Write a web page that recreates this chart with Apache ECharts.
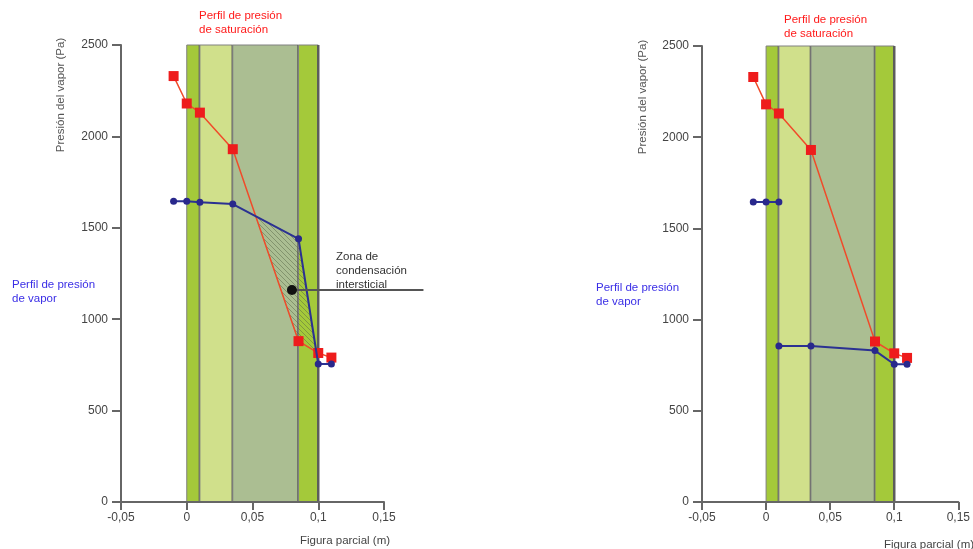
<!DOCTYPE html>
<html>
<head>
<meta charset="utf-8">
<script src="https://cdn.jsdelivr.net/npm/echarts@6/dist/echarts.min.js"></script>
<style>
  html, body { margin: 0; padding: 0; background: #fff; }
  #chart { width: 973px; height: 549px; }
</style>
</head>
<body>
<div id="chart"></div>
<script>
// Positions through the wall section (m)
const positions = [-0.01, 0, 0.01, 0.035, 0.085, 0.1, 0.11];
// Saturation vapour pressure at each position (Pa)
const saturationPa = [2330, 2180, 2130, 1930, 880, 815, 790];
// Vapour pressure, wall without vapour barrier (Pa)
const vaporPaA = [1645, 1645, 1640, 1630, 1440, 755, 755];
// Vapour pressure, wall with vapour barrier: indoor part and part past the barrier (Pa)
const vaporPaB_in = [1645, 1645, 1645];            // positions[0..2]
const vaporPaB_out = [855, 855, 830, 755, 755];    // positions[2..6]
// Layer boundaries (m) and their fills
const layerEdges = [0, 0.01, 0.035, 0.085, 0.1];
const layerColors = ['#a4c93a', '#d0e08b', '#abbe92', '#a4c93a'];
const wallTopPa = 2500;
// Interstitial condensation callout
const condensationPoint = [0.08, 1160];
const calloutEndX = 0.18;
// Axis ranges
const xRange = [-0.05, 0.15], xStep = 0.05;
const yRange = [0, 2500], yStep = 500;

const FONT = '"Liberation Sans", Arial, sans-serif';

function zip(xs, ys) { return xs.map((x, i) => [x, ys[i]]); }

// Region where vapour pressure exceeds saturation pressure
function condensationZone(xs, vap, sat) {
  const upper = [], lower = [];
  for (let i = 0; i < xs.length - 1; i++) {
    const d0 = vap[i] - sat[i], d1 = vap[i + 1] - sat[i + 1];
    if (d0 > 0) { upper.push([xs[i], vap[i]]); lower.push([xs[i], sat[i]]); }
    if ((d0 > 0) !== (d1 > 0)) {
      const t = d0 / (d0 - d1);
      const p = [xs[i] + t * (xs[i + 1] - xs[i]), vap[i] + t * (vap[i + 1] - vap[i])];
      upper.push(p); lower.push(p);
    }
  }
  return upper.concat(lower.reverse());
}
const zone = condensationZone(positions, vaporPaA, saturationPa);

// Diagonal hatch pattern
const hatch = document.createElement('canvas');
hatch.width = 5; hatch.height = 5;
(function () {
  const c = hatch.getContext('2d');
  c.strokeStyle = 'rgba(85,100,70,0.6)';
  c.lineWidth = 0.8;
  c.beginPath();
  c.moveTo(0, 0); c.lineTo(5, 5);
  c.moveTo(-1, 4); c.lineTo(1, 6);
  c.moveTo(4, -1); c.lineTo(6, 1);
  c.stroke();
})();

function bandItem(params, api) {
  const i = api.value(0);
  const tl = api.coord([layerEdges[i], wallTopPa]);
  const br = api.coord([layerEdges[i + 1], 0]);
  return {
    type: 'group',
    children: [
      { type: 'rect', shape: { x: tl[0], y: tl[1], width: br[0] - tl[0], height: br[1] - tl[1] },
        style: { fill: layerColors[i], stroke: '#808080', lineWidth: 1 } },
      { type: 'line', shape: { x1: br[0], y1: tl[1], x2: br[0], y2: br[1] },
        style: { stroke: '#5c5c5c', lineWidth: 2.5 } }
    ]
  };
}

function zoneItem(params, api) {
  const pts = zone.map(p => api.coord(p));
  return { type: 'polygon', shape: { points: pts },
           style: { fill: { image: hatch, repeat: 'repeat' }, stroke: 'rgba(90,105,75,0.5)', lineWidth: 0.5 } };
}

// Leader line from the condensation marker out past the chart edge
function calloutItem(params, api) {
  const a = api.coord(condensationPoint);
  const b = api.coord([calloutEndX, condensationPoint[1]]);
  return {
    type: 'group',
    children: [
      { type: 'line', shape: { x1: a[0], y1: a[1], x2: b[0], y2: b[1] },
        style: { stroke: '#555', lineWidth: 2 } },
      { type: 'circle', shape: { cx: a[0], cy: a[1], r: 5 }, style: { fill: '#111' } }
    ]
  };
}

const labelFmt = v => String(+v.toFixed(3)).replace('.', ',');

function xAxis(gi) {
  return {
    gridIndex: gi, type: 'value', min: xRange[0], max: xRange[1], interval: xStep, z: 10,
    axisLine: { show: true, onZero: false, lineStyle: { color: '#666', width: 2 } },
    axisTick: { show: true, length: 8, lineStyle: { color: '#666', width: 2 } },
    axisLabel: { color: '#444', fontSize: 12, fontFamily: FONT, margin: 10, formatter: labelFmt },
    splitLine: { show: false }
  };
}
function yAxis(gi) {
  return {
    gridIndex: gi, type: 'value', min: yRange[0], max: yRange[1], interval: yStep, z: 10,
    axisLine: { show: true, onZero: false, lineStyle: { color: '#666', width: 2 } },
    axisTick: { show: true, length: 9, lineStyle: { color: '#666', width: 2 } },
    axisLabel: { color: '#444', fontSize: 12, fontFamily: FONT, margin: 13, formatter: v => String(v) },
    splitLine: { show: false }
  };
}

const redLine = (xi) => ({
  type: 'line', xAxisIndex: xi, yAxisIndex: xi, z: 5,
  data: zip(positions, saturationPa),
  symbol: 'rect', symbolSize: 10, showSymbol: true,
  lineStyle: { color: '#f04b2a', width: 1.5 },
  itemStyle: { color: '#ee1c1c' },
  animation: false
});
const blueLine = (xi, data) => ({
  type: 'line', xAxisIndex: xi, yAxisIndex: xi, z: 6,
  data: data,
  symbol: 'circle', symbolSize: 7, showSymbol: true,
  lineStyle: { color: '#2b3192', width: 2 },
  itemStyle: { color: '#29288c' },
  animation: false
});

function txt(x, y, text, fill, extra) {
  return {
    type: 'text', x: x, y: y, z: 20,
    style: Object.assign({ text: text, fill: fill, fontSize: 11.5, fontFamily: FONT, lineHeight: 14 }, extra || {})
  };
}

const chart = echarts.init(document.getElementById('chart'), null, { renderer: 'canvas' });
chart.setOption({
  animation: false,
  backgroundColor: '#fff',
  grid: [
    { left: 121, top: 45, width: 263, height: 457 },
    { left: 702, top: 46, width: 266, height: 456 }
  ],
  xAxis: [xAxis(0), xAxis(1)],
  yAxis: [yAxis(0), yAxis(1)],
  series: [
    { type: 'custom', xAxisIndex: 0, yAxisIndex: 0, z: 1, renderItem: bandItem,
      data: layerColors.map((c, i) => [i]), silent: true },
    { type: 'custom', xAxisIndex: 0, yAxisIndex: 0, z: 2, renderItem: zoneItem,
      data: [[0]], silent: true },
    redLine(0),
    blueLine(0, zip(positions, vaporPaA)),
    { type: 'custom', xAxisIndex: 0, yAxisIndex: 0, z: 7, renderItem: calloutItem,
      data: [[0]], silent: true },

    { type: 'custom', xAxisIndex: 1, yAxisIndex: 1, z: 1, renderItem: bandItem,
      data: layerColors.map((c, i) => [i]), silent: true },
    redLine(1),
    blueLine(1, zip(positions.slice(0, 3), vaporPaB_in)),
    blueLine(1, zip(positions.slice(2), vaporPaB_out))
  ],
  graphic: [
    txt(199, 9, 'Perfil de presión\nde saturación', '#ff1a1a'),
    txt(12, 278, 'Perfil de presión\nde vapor', '#3a2ee6'),
    txt(336, 250, 'Zona de\ncondensación\nintersticial', '#333'),
    Object.assign(txt(61, 95, 'Presión del vapor (Pa)', '#555', { align: 'center', verticalAlign: 'middle' }), { rotation: Math.PI / 2 }),
    txt(345, 541, 'Figura parcial (m)', '#444', { align: 'center', verticalAlign: 'middle' }),

    txt(784, 13, 'Perfil de presión\nde saturación', '#ff1a1a'),
    txt(596, 281, 'Perfil de presión\nde vapor', '#3a2ee6'),
    Object.assign(txt(643, 97, 'Presión del vapor (Pa)', '#555', { align: 'center', verticalAlign: 'middle' }), { rotation: Math.PI / 2 }),
    txt(929, 545, 'Figura parcial (m)', '#444', { align: 'center', verticalAlign: 'middle' })
  ]
});
</script>
</body>
</html>
